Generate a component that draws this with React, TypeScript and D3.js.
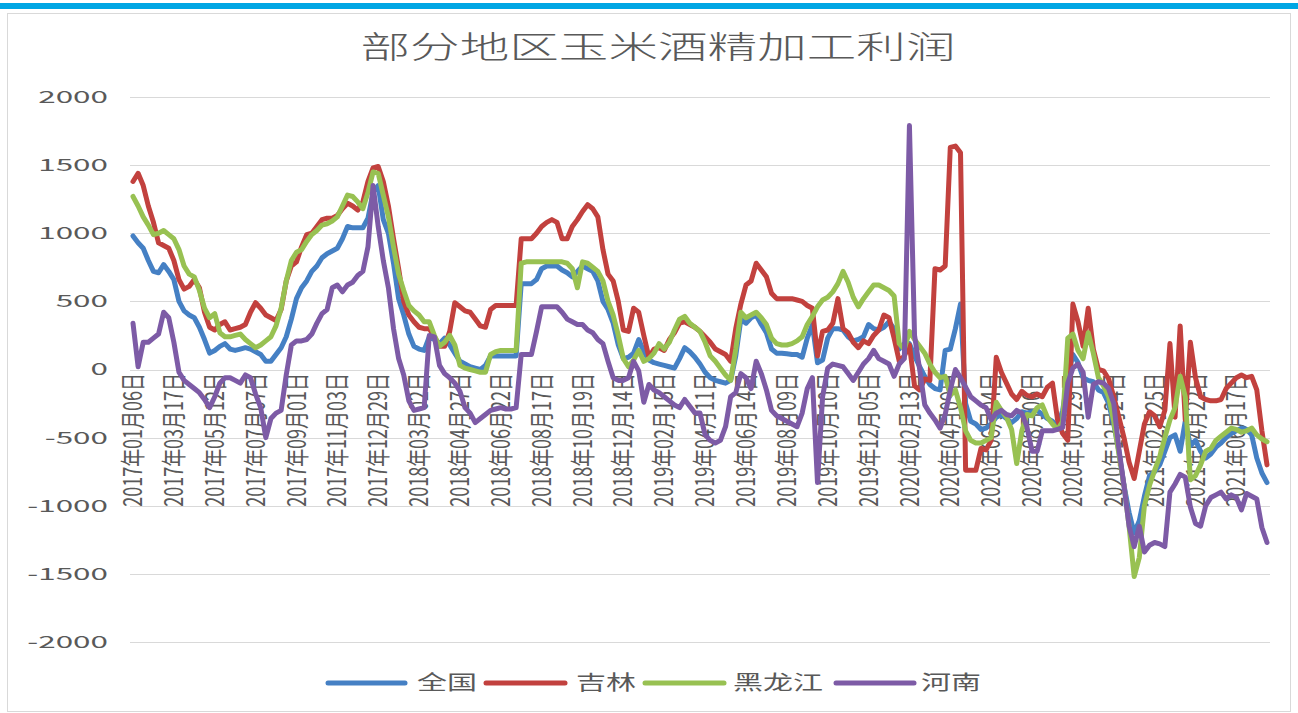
import React from 'react';
import * as d3 from 'd3';

// weekly profit per region (yuan/ton)
const quanguo = [
  980, 930, 890, 800, 720, 710, 770, 720, 660, 500, 430, 400, 380, 310, 220, 120, 140, 170, 190, 150, 140, 150, 160, 150, 130, 110, 60, 60, 110, 160, 240, 370, 520, 600, 650, 720, 760, 820,
  850, 870, 890, 960, 1050, 1040, 1040, 1040, 1110, 1300, 1350, 1100, 1000, 780, 520, 400, 260, 170, 150, 140, 240, 220, 190, 230, 180, 120, 60, 40, 20, 10, 0, 30, 100, 100, 100, 100, 100, 100,
  630, 630, 630, 660, 740, 760, 760, 760, 730, 710, 680, 720, 760, 740, 720, 650, 500, 440, 340, 180, 80, 90, 120, 220, 130, 70, 50, 40, 30, 20, 10, 80, 160, 130, 90, 40, -20, -60,
  -80, -90, -100, -80, 100, 370, 340, 380, 400, 330, 270, 150, 120, 120, 115, 110, 110, 90, 230, 330, 50, 70, 230, 300, 300, 290, 240, 210, 220, 240, 330, 300, 290, 310, 350, 300, 150, 190,
  190, 100, 20, -50, -110, -140, -150, 140, 150, 300, 480, -250, -380, -400, -440, -430, -400, -350, -330, -360, -390, -360, -310, -320, -310, -300, -330, -360, -380, -420, -300, -60, 110, 50,
  -60, -80, -90, -150, -170, -250, -400, -600, -850, -1050, -1200, -1110, -930, -780, -750, -700, -600, -500, -480, -600, -380, -560, -520, -600, -650, -620, -570, -540, -500, -470, -450, -430, -440, -480, -650, -760, -830,
];

const jilin = [
  1380, 1440, 1350, 1200, 1080, 930, 910, 890, 800, 660, 590, 610, 660, 600, 420, 310, 290, 330, 350, 290, 300, 310, 330, 420, 490, 450, 400, 380, 360, 440, 650, 760, 790, 900, 990, 1000, 1050, 1100,
  1110, 1110, 1130, 1180, 1220, 1200, 1170, 1230, 1380, 1480, 1490, 1380, 1200, 960, 740, 500, 400, 350, 310, 300, 300, 240, 170, 170, 280, 490, 460, 430, 420, 370, 320, 310, 440, 470, 470, 470, 470, 470,
  960, 960, 960, 1000, 1050, 1080, 1100, 1080, 960, 960, 1050, 1100, 1160, 1210, 1180, 1120, 880, 700, 650, 500, 290, 280, 450, 420, 250, 90, 150, 160, 140, 220, 270, 340, 350, 330, 310, 280, 240, 200,
  150, 130, 110, 60, 300, 480, 620, 650, 780, 730, 680, 560, 520, 520, 520, 520, 510, 500, 470, 450, 100, 280, 290, 340, 520, 300, 270, 200, 160, 210, 190, 250, 290, 400, 380, 230, 60, 100,
  180, -120, -150, -70, -80, 740, 730, 760, 1630, 1640, 1590, -740, -740, -740, -580, -590, -520, 90, -20, -100, -180, -220, -160, -190, -200, -180, -200, -130, -100, -370, -470, -520, 480, 350,
  170, 450, 150, 0, -10, -70, -200, -350, -500, -680, -800, -600, -400, -310, -340, -420, -300, 190, -350, 320, -370, 200, -60, -200, -220, -230, -230, -220, -140, -100, -60, -40, -60, -50, -150, -450, -700,
];

const heilongjiang = [
  1270, 1200, 1120, 1060, 990, 1000, 1020, 990, 960, 880, 760, 700, 680, 580, 450, 380, 410, 270, 240, 240, 250, 260, 220, 190, 160, 180, 210, 240, 320, 450, 650, 800, 860, 880, 940, 990, 1020, 1060,
  1070, 1090, 1120, 1200, 1280, 1270, 1230, 1180, 1300, 1450, 1440, 1280, 1120, 900, 700, 580, 470, 430, 400, 350, 350, 250, 170, 200, 250, 180, 30, 10, 0, -10, -20, -20, 110, 130, 140, 140, 140, 140,
  780, 790, 790, 790, 790, 790, 790, 790, 790, 780, 740, 600, 790, 780, 750, 720, 650, 500, 400, 250, 80, 20, 70, 140, 60, 80, 120, 190, 150, 200, 290, 370, 390, 340, 310, 280, 200, 100,
  60, 10, -40, -80, 150, 420, 380, 400, 420, 380, 330, 230, 190, 180, 180, 190, 210, 240, 330, 390, 460, 510, 530, 570, 630, 720, 640, 530, 460, 520, 570, 620, 620, 600, 580, 540, 190, 150,
  280, 220, 170, 120, 40, -20, -60, -50, -190, -150, -280, -450, -520, -540, -540, -520, -500, -240, -300, -350, -440, -690, -450, -330, -340, -280, -260, -350, -400, -440, -380, 230, 260, 140,
  80, 270, 120, -60, -120, -200, -380, -620, -850, -1150, -1520, -1380, -1000, -850, -740, -640, -500, -370, -280, -50, -200, -810, -780, -700, -600, -580, -520, -490, -460, -430, -440, -460, -450, -430, -480, -510, -530,
];

const henan = [
  340, 20, 200, 200, 230, 260, 420, 380, 200, -20, -80, -110, -140, -170, -220, -280, -200, -100, -60, -60, -80, -100, -40, -60, -180, -280, -500, -360, -320, -300, -40, 180, 210, 210, 220, 260, 340, 410,
  440, 600, 620, 570, 620, 640, 690, 720, 900, 1350, 1050, 800, 600, 300, 80, -40, -230, -300, -290, -280, 250, 240, 30, -30, -60, -100, -160, -280, -320, -390, -360, -330, -300, -290, -280, -290, -290, -280,
  110, 110, 110, 280, 460, 460, 460, 460, 420, 370, 350, 330, 330, 290, 270, 220, 190, 60, -60, -80, -80, -60, 60, -10, -240, -110, -150, -170, -200, -230, -260, -280, -220, -270, -320, -320, -480, -520,
  -540, -520, -420, -200, -170, -30, -60, -140, 60, -30, -150, -300, -340, -360, -380, -400, -420, -320, -140, -60, -830, -200, 10, 40, 30, 20, -30, -80, -20, 40, 80, 140, 80, 60, 40, -50, 40, 80,
  1790, 250, 0, -260, -320, -370, -430, -330, -150, 0, -60, -130, -200, -230, -260, -280, -370, -320, -300, -330, -340, -300, -320, -420, -600, -600, -450, -450, -450, -440, -425, -100, 10, 40,
  -20, -350, -110, -90, -100, -140, -250, -580, -850, -1150, -1300, -1150, -1340, -1290, -1270, -1280, -1300, -900, -840, -770, -790, -1010, -1130, -1150, -1000, -940, -920, -900, -950, -920, -940, -1030, -910, -930, -950, -1160, -1270,
];

// one label every 8 categories
const tickLabels = [
  '2017年01月06日', '2017年03月17日', '2017年05月12日', '2017年07月07日', '2017年09月01日', '2017年11月03日', '2017年12月29日',
  '2018年03月02日', '2018年04月27日', '2018年06月22日', '2018年08月17日', '2018年10月19日', '2018年12月14日',
  '2019年02月15日', '2019年04月11日', '2019年06月14日', '2019年08月09日', '2019年10月10日', '2019年12月05日',
  '2020年02月13日', '2020年04月09日', '2020年06月04日', '2020年08月06日', '2020年10月29日', '2020年12月24日',
  '2021年02月25日', '2021年04月22日', '2021年06月17日',
];
const tickStep = 8;
const yTicks = [2000, 1500, 1000, 500, 0, -500, -1000, -1500, -2000];

const seriesNames = ['全国', '吉林', '黑龙江', '河南'];
const seriesColors = ['#4580c4', '#c2413e', '#98c152', '#7d5ba6'];
const seriesData = [quanguo, jilin, heilongjiang, henan];

const W = 1298;
const H = 713;
const font = '"Noto Sans CJK SC", "Liberation Sans", sans-serif';
const textColor = '#595959';
const stretch = 1.5; // the reference is widened horizontally

export default function App() {
  const n = quanguo.length;
  const x = d3.scaleLinear().domain([0, n - 1]).range([133, 1267]);
  const y = d3.scaleLinear().domain([-2000, 2000]).range([642, 97]);

  const line = d3.line<number>()
    .x((_, i) => x(i))
    .y(d => y(d));

  // legend layout
  const legend = [
    { lx1: 328, lx2: 405, tx: 417 },
    { lx1: 486, lx2: 565, tx: 576 },
    { lx1: 645, lx2: 724, tx: 733 },
    { lx1: 836, lx2: 914, tx: 921 },
  ];

  return (
    <svg width={W} height={H} style={{ position: 'absolute', left: 0, top: 0, background: '#fff' }}>
      <rect x={0} y={3} width={W} height={6} fill="#00a6e4" />
      <rect x={7.5} y={13.5} width={1283} height={698} fill="#fff" stroke="#d9d9d9" />

      <text
        transform={`translate(658,58) scale(1.6,1)`}
        textAnchor="middle"
        fontFamily={font}
        fontSize={31}
        fontWeight={300}
        fill={textColor}
      >
        部分地区玉米酒精加工利润
      </text>

      {/* grid + y labels */}
      {yTicks.map(t => (
        <g key={t}>
          <line x1={130} x2={1270} y1={Math.round(y(t)) + 0.5} y2={Math.round(y(t)) + 0.5} stroke="#d9d9d9" strokeWidth={1} />
          <text
            transform={`translate(108,${y(t)}) scale(1.85,1)`}
            textAnchor="end"
            dy="0.35em"
            fontFamily={font}
            fontSize={17}
            fill={textColor}
          >
            {t}
          </text>
        </g>
      ))}

      {/* category labels hanging from the zero line */}
      {tickLabels.map((lab, k) => (
        <text
          key={lab}
          transform={`translate(${x(k * tickStep)},373) rotate(-90) scale(1,1.4)`}
          textAnchor="end"
          dy="0.36em"
          fontFamily={font}
          fontSize={18}
          fill={textColor}
        >
          {lab}
        </text>
      ))}

      {seriesData.map((s, i) => (
        <path
          key={seriesNames[i]}
          d={line(s) || ''}
          fill="none"
          stroke={seriesColors[i]}
          strokeWidth={5}
          strokeLinejoin="round"
          strokeLinecap="round"
        />
      ))}

      {/* legend */}
      {legend.map((l, i) => (
        <g key={seriesNames[i]}>
          <line x1={l.lx1} x2={l.lx2} y1={683} y2={683} stroke={seriesColors[i]} strokeWidth={5} strokeLinecap="round" />
          <text
            transform={`translate(${l.tx},690) scale(${stretch},1)`}
            fontFamily={font}
            fontSize={20}
            fill={textColor}
          >
            {seriesNames[i]}
          </text>
        </g>
      ))}
    </svg>
  );
}
